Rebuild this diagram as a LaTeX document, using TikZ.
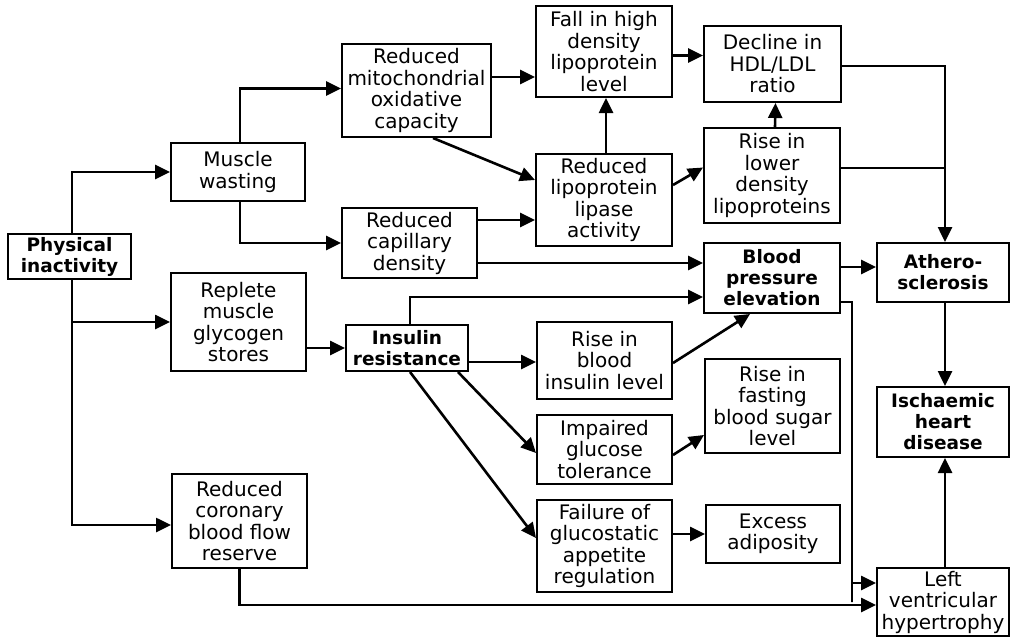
\documentclass[tikz,border=0pt]{standalone}
\usepackage{fontspec}
\setmainfont{DejaVu Sans}
\usetikzlibrary{arrows.meta,calc}
\begin{document}
\begin{tikzpicture}[x=1pt,y=-1pt,
  box/.style={draw, line width=2pt, align=center, inner sep=0pt, font={\fontsize{20}{21.5}\selectfont}},
  bbox/.style={box, font={\fontsize{18.5}{21}\selectfont\bfseries}},
  arr/.style={line width=2.6pt, -{Triangle[length=15pt,width=14pt]}},
  ln/.style={line width=2.6pt}]
\useasboundingbox (0,0) rectangle (1011,637);
% nodes
\node[bbox, minimum width=123pt, minimum height=45pt] (pi) at (69.5,256.5) {Physical\\inactivity};
\node[box, minimum width=134pt, minimum height=58pt] (mw) at (238,172) {Muscle\\wasting};
\node[box, minimum width=149pt, minimum height=93pt] (mito) at (416.5,90.5) {Reduced\\mitochondrial\\oxidative\\capacity};
\node[box, minimum width=136pt, minimum height=91pt] (fall) at (604,51.5) {Fall in high\\density\\lipoprotein\\level};
\node[box, minimum width=137pt, minimum height=76pt] (decl) at (772.5,64) {Decline in\\HDL/LDL\\ratio};
\node[box, minimum width=136pt, minimum height=92pt] (lip) at (604,200) {Reduced\\lipoprotein\\lipase\\activity};
\node[box, minimum width=136pt, minimum height=95pt] (rlow) at (772,175.5) {Rise in\\lower\\density\\lipoproteins};
\node[box, minimum width=135pt, minimum height=70pt] (cap) at (409.5,243) {Reduced\\capillary\\density};
\node[bbox, minimum width=136pt, minimum height=70pt] (bp) at (772,278) {Blood\\pressure\\elevation};
\node[bbox, minimum width=132pt, minimum height=59pt] (ath) at (943,272.5) {Athero-\\sclerosis};
\node[box, minimum width=135pt, minimum height=98pt] (rep) at (238.5,322) {Replete\\muscle\\glycogen\\stores};
\node[bbox, minimum width=122pt, minimum height=46pt] (ir) at (407,348) {Insulin\\resistance};
\node[box, minimum width=135pt, minimum height=77pt] (rbi) at (604.5,360.5) {Rise in\\blood\\insulin level};
\node[box, minimum width=135pt, minimum height=94pt] (rfs) at (772.5,406) {Rise in\\fasting\\blood sugar\\level};
\node[bbox, minimum width=132pt, minimum height=70pt] (ihd) at (943,422) {Ischaemic\\heart\\disease};
\node[box, minimum width=135pt, minimum height=69pt] (igt) at (604.5,449.5) {Impaired\\glucose\\tolerance};
\node[box, minimum width=135pt, minimum height=92pt] (fail) at (604.5,546) {Failure of\\glucostatic\\appetite\\regulation};
\node[box, minimum width=134pt, minimum height=58pt] (exc) at (773,534) {Excess\\adiposity};
\node[box, minimum width=135pt, minimum height=94pt] (cor) at (239.5,521) {Reduced\\coronary\\blood flow\\reserve};
\node[box, minimum width=132pt, minimum height=68pt] (lvh) at (943,602) {Left\\ventricular\\hypertrophy};
% connectors
\coordinate (tx) at (72,0);
\coordinate (jx) at ([xshift=2pt]ath.north);
\coordinate (bx) at ([xshift=-24pt]lvh.west);
\draw[arr] (pi.north -| tx) |- (mw.west);
\draw[arr] (pi.south -| tx) |- (rep.west);
\draw[arr] (pi.south -| tx) |- ([yshift=-4pt]cor.west);
\draw[arr] ([xshift=2pt]mw.north) |- ([yshift=2pt]mito.west);
\draw[arr] ([xshift=2pt]mw.south) |- (cap.west);
\draw[arr] ([yshift=13.5pt]mito.east) -- ([yshift=13.5pt]mito.east -| fall.west);
\draw[arr] ([xshift=16.5pt]mito.south) -- ([yshift=20pt]lip.west);
\draw[arr] ([yshift=23pt]cap.east) -- ([yshift=23pt]cap.east -| lip.west);
\draw[arr] ([xshift=2pt]lip.north) -- ([xshift=2pt]fall.south);
\draw[arr] ([yshift=-4pt]fall.east) -- ([yshift=-4pt]fall.east -| decl.west);
\draw[arr] ([yshift=15pt]lip.east) -- ([yshift=8pt]rlow.west);
\draw[arr] ([xshift=3pt]rlow.north) -- ([xshift=3pt]decl.south);
\draw[arr] ([yshift=-2pt]decl.east) -| (jx);
\draw[ln] ([yshift=7.5pt]rlow.east) -- ([yshift=7.5pt]rlow.east -| jx);
\draw[arr] ([yshift=-20pt]cap.east) -- ([yshift=-20pt]cap.east -| bp.west);
\draw[arr] ([xshift=3pt]ir.north) |- ([yshift=-19pt]bp.west);
\draw[arr] ([yshift=11pt]bp.east) -- ([yshift=11pt]bp.east -| ath.west);
\draw[arr] ([yshift=-24pt]bp.east) -| (bx) |- ([yshift=19pt]lvh.west);
\draw[arr] (rep.east |- ir.west) -- (ir.west);
\draw[arr] ([yshift=-14pt]ir.east) -- ([yshift=-14pt]ir.east -| rbi.west);
\draw[arr] ([xshift=51pt]ir.south) -- ([yshift=-3.5pt]igt.west);
\draw[arr] ([xshift=3pt]ir.south) -- ([yshift=8pt]fail.west);
\draw[arr] ([yshift=-2.5pt]rbi.east) -- ([xshift=-22pt]bp.south);
\draw[arr] ([yshift=-5.5pt]igt.east) -- ([yshift=-29pt]rfs.west);
\draw[arr] (exc.west -| fail.east) -- (exc.west);
\draw[arr] ([xshift=2pt]ath.south) -- ([xshift=2pt]ihd.north);
\draw[arr] ([xshift=2pt]lvh.north) -- ([xshift=2pt]ihd.south);
\draw[arr] (cor.south) |- ([yshift=-3pt]lvh.west);
\end{tikzpicture}
\end{document}
